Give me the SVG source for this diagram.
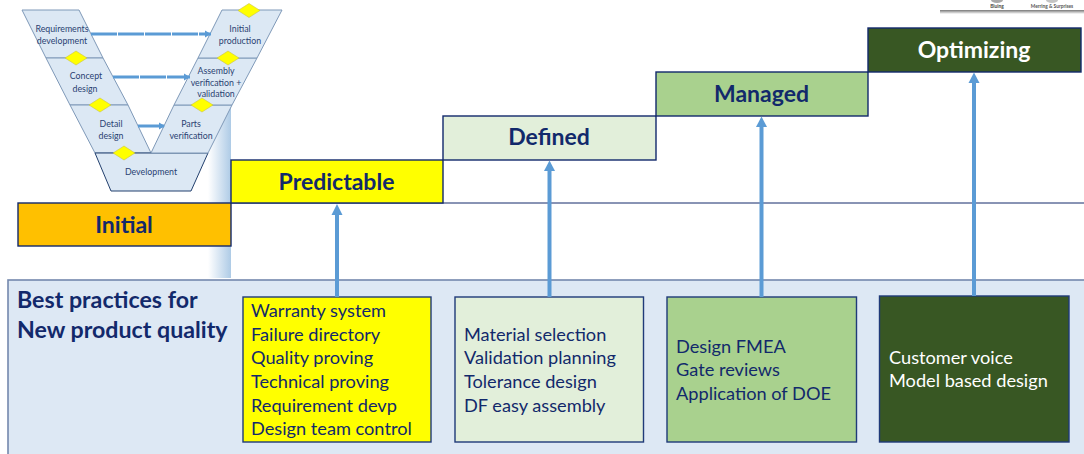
<svg xmlns="http://www.w3.org/2000/svg" width="1084" height="454" viewBox="0 0 1084 454">
<style>
text{font-family:Lato,"Liberation Sans",sans-serif;fill:#12296b}
.step{stroke:#12296b;stroke-width:1.4}
.stepT{font-size:23px;font-weight:700;text-anchor:middle}
.card{stroke:#1f3a78;stroke-width:1.4}
.cardT{font-size:18.2px}
.v{fill:#dce8f4;stroke:#7f99b8;stroke-width:1}
.vT{font-size:8.8px;text-anchor:middle;fill:#2a4272}
.dia{fill:#ffff00;stroke:#c9c34a;stroke-width:.6}
.vArrow{stroke:#5b9bd5;stroke-width:3;fill:none;stroke-dasharray:26 1}
.up{stroke:#5b9bd5;stroke-width:4;fill:none}
.head{fill:#5b9bd5}
</style>
<defs>
<linearGradient id="band" x1="0" x2="1" y1="0" y2="0"><stop offset="0" stop-color="#ffffff"/><stop offset="1" stop-color="#aecbe6"/></linearGradient>
<linearGradient id="shadow" x1="0" x2="0" y1="0" y2="1"><stop offset="0" stop-color="#777777"/><stop offset="1" stop-color="#ffffff"/></linearGradient>
<marker id="vh" markerUnits="userSpaceOnUse" markerWidth="8" markerHeight="8" refX="6" refY="4" orient="auto"><path d="M0 0.5L6 4L0 7.500z" fill="#5b9bd5"/></marker>
</defs>

<g id="thumbnail">
<rect x="940" y="10" width="144" height="4" fill="url(#shadow)"/>
<ellipse cx="997" cy="0" rx="6" ry="3" fill="#a8a8a8"/>
<ellipse cx="1052" cy="0" rx="6" ry="3" fill="#c4c4c4"/>
<text x="997" y="8" font-size="4.800" font-weight="700" text-anchor="middle" style="fill:#444">Bluing</text>
<text x="1052" y="8" font-size="4.800" font-weight="700" text-anchor="middle" style="fill:#555">Merring &amp; Surprises</text>
</g>

<polygon id="band-shade" points="231,105 208,153 208,278 231,278" fill="url(#band)"/>

<g id="v-model">
<g id="v-requirements"><polygon class="v" points="22,10 79,10 103,58 46,58"/><text class="vT"><tspan x="62" y="32">Requirements</tspan><tspan x="62" y="44">development</tspan></text></g>
<g id="v-concept"><polygon class="v" points="46,58 103,58 128,105 70,105"/><text class="vT"><tspan x="86" y="79">Concept</tspan><tspan x="85" y="92">design</tspan></text></g>
<g id="v-detail"><polygon class="v" points="70,105 128,105 151,153 95,153"/><text class="vT"><tspan x="111" y="127">Detail</tspan><tspan x="111" y="139">design</tspan></text></g>
<g id="v-development"><polygon class="v" points="95,153 208,153 191,191 111,191" style="stroke:#23406e"/><text class="vT" x="151" y="175">Development</text></g>
<g id="v-parts"><polygon class="v" points="151,153 174,105 232,105 208,153"/><text class="vT"><tspan x="191" y="127">Parts</tspan><tspan x="191" y="139">verification</tspan></text></g>
<g id="v-assembly"><polygon class="v" points="174,105 198,58 257,58 232,105"/><text class="vT"><tspan x="216" y="74">Assembly</tspan><tspan x="216" y="86">verification +</tspan><tspan x="216" y="97">validation</tspan></text></g>
<g id="v-initial"><polygon class="v" points="198,58 222,10 282,10 257,58"/><text class="vT"><tspan x="240" y="32">Initial</tspan><tspan x="240" y="44">production</tspan></text></g>
<polygon class="dia" points="249,3.500 260,10.500 249,17.500 238,10.500"/>
<polygon class="dia" points="76,51 87,58 76,65 65,58"/>
<polygon class="dia" points="228,51 239,58 228,65 217,58"/>
<polygon class="dia" points="100,98 111,105 100,112 89,105"/>
<polygon class="dia" points="202,98 213,105 202,112 191,105"/>
<polygon class="dia" points="124,146 135,153 124,160 113,153"/>
</g>

<line x1="231" y1="203" x2="1084" y2="203" stroke="#12296b" stroke-width="1"/>

<g id="panel"><rect x="8" y="280" width="1080" height="180" fill="#dde8f4" stroke="#7488ad" stroke-width="1.600"/>
<text font-size="23.200" font-weight="700"><tspan x="17" y="308">Best practices for</tspan><tspan x="17" y="338">New product quality</tspan></text></g>

<g id="step-initial"><rect class="step" x="18" y="203" width="213" height="43" fill="#ffc000"/><text class="stepT" x="124" y="233">Initial</text></g>
<g id="step-predictable"><rect class="step" x="231" y="160" width="212" height="43" fill="#ffff00"/><text class="stepT" x="336.500" y="190">Predictable</text></g>
<g id="step-defined"><rect class="step" x="443" y="116" width="213" height="44" fill="#e2efda"/><text class="stepT" x="549" y="145">Defined</text></g>
<g id="step-managed"><rect class="step" x="656" y="72" width="212" height="44" fill="#a9d18e"/><text class="stepT" x="761.500" y="102">Managed</text></g>
<g id="step-optimizing"><rect class="step" x="868" y="28" width="213" height="44" fill="#385723"/><text class="stepT" x="974" y="58" style="fill:#fff">Optimizing</text></g>

<g id="card-predictable"><rect class="card" x="243" y="297" width="188" height="145" fill="#ffff00"/>
<text class="cardT"><tspan x="251" y="317">Warranty system</tspan><tspan x="251" y="341">Failure directory</tspan><tspan x="251" y="364">Quality proving</tspan><tspan x="251" y="388">Technical proving</tspan><tspan x="251" y="412">Requirement devp</tspan><tspan x="251" y="435">Design team control</tspan></text></g>
<g id="card-defined"><rect class="card" x="455" y="297" width="188.500" height="145" fill="#e2efda"/>
<text class="cardT"><tspan x="464" y="341">Material selection</tspan><tspan x="464" y="364">Validation planning</tspan><tspan x="464" y="388">Tolerance design</tspan><tspan x="464" y="412">DF easy assembly</tspan></text></g>
<g id="card-managed"><rect class="card" x="667" y="297" width="189.500" height="145" fill="#a9d18e"/>
<text class="cardT"><tspan x="676" y="353">Design FMEA</tspan><tspan x="676" y="376">Gate reviews</tspan><tspan x="676" y="400">Application of DOE</tspan></text></g>
<g id="card-optimizing"><rect class="card" x="879.500" y="296" width="189.500" height="146" fill="#385723"/>
<text class="cardT" style="fill:#fff"><tspan x="889" y="364" style="fill:#fff">Customer voice</tspan><tspan x="889" y="387" style="fill:#fff">Model based design</tspan></text></g>

<g id="connectors">
<line class="vArrow" x1="91" y1="34" x2="211" y2="34" marker-end="url(#vh)"/>
<line class="vArrow" x1="113" y1="77" x2="190" y2="77" marker-end="url(#vh)"/>
<line class="vArrow" x1="138" y1="126" x2="165" y2="126" marker-end="url(#vh)"/>
<line class="up" x1="337" y1="297" x2="337" y2="214"/><polygon class="head" points="337,204 331.500,215 342.500,215"/>
<line class="up" x1="549.500" y1="297" x2="549.500" y2="170"/><polygon class="head" points="549.500,160.500 544,171 555,171"/>
<line class="up" x1="761.500" y1="297" x2="761.500" y2="126"/><polygon class="head" points="761.500,116.500 756,127 767,127"/>
<line class="up" x1="974" y1="296" x2="974" y2="82"/><polygon class="head" points="974,72.500 968.500,83 979.500,83"/>
</g>
</svg>
